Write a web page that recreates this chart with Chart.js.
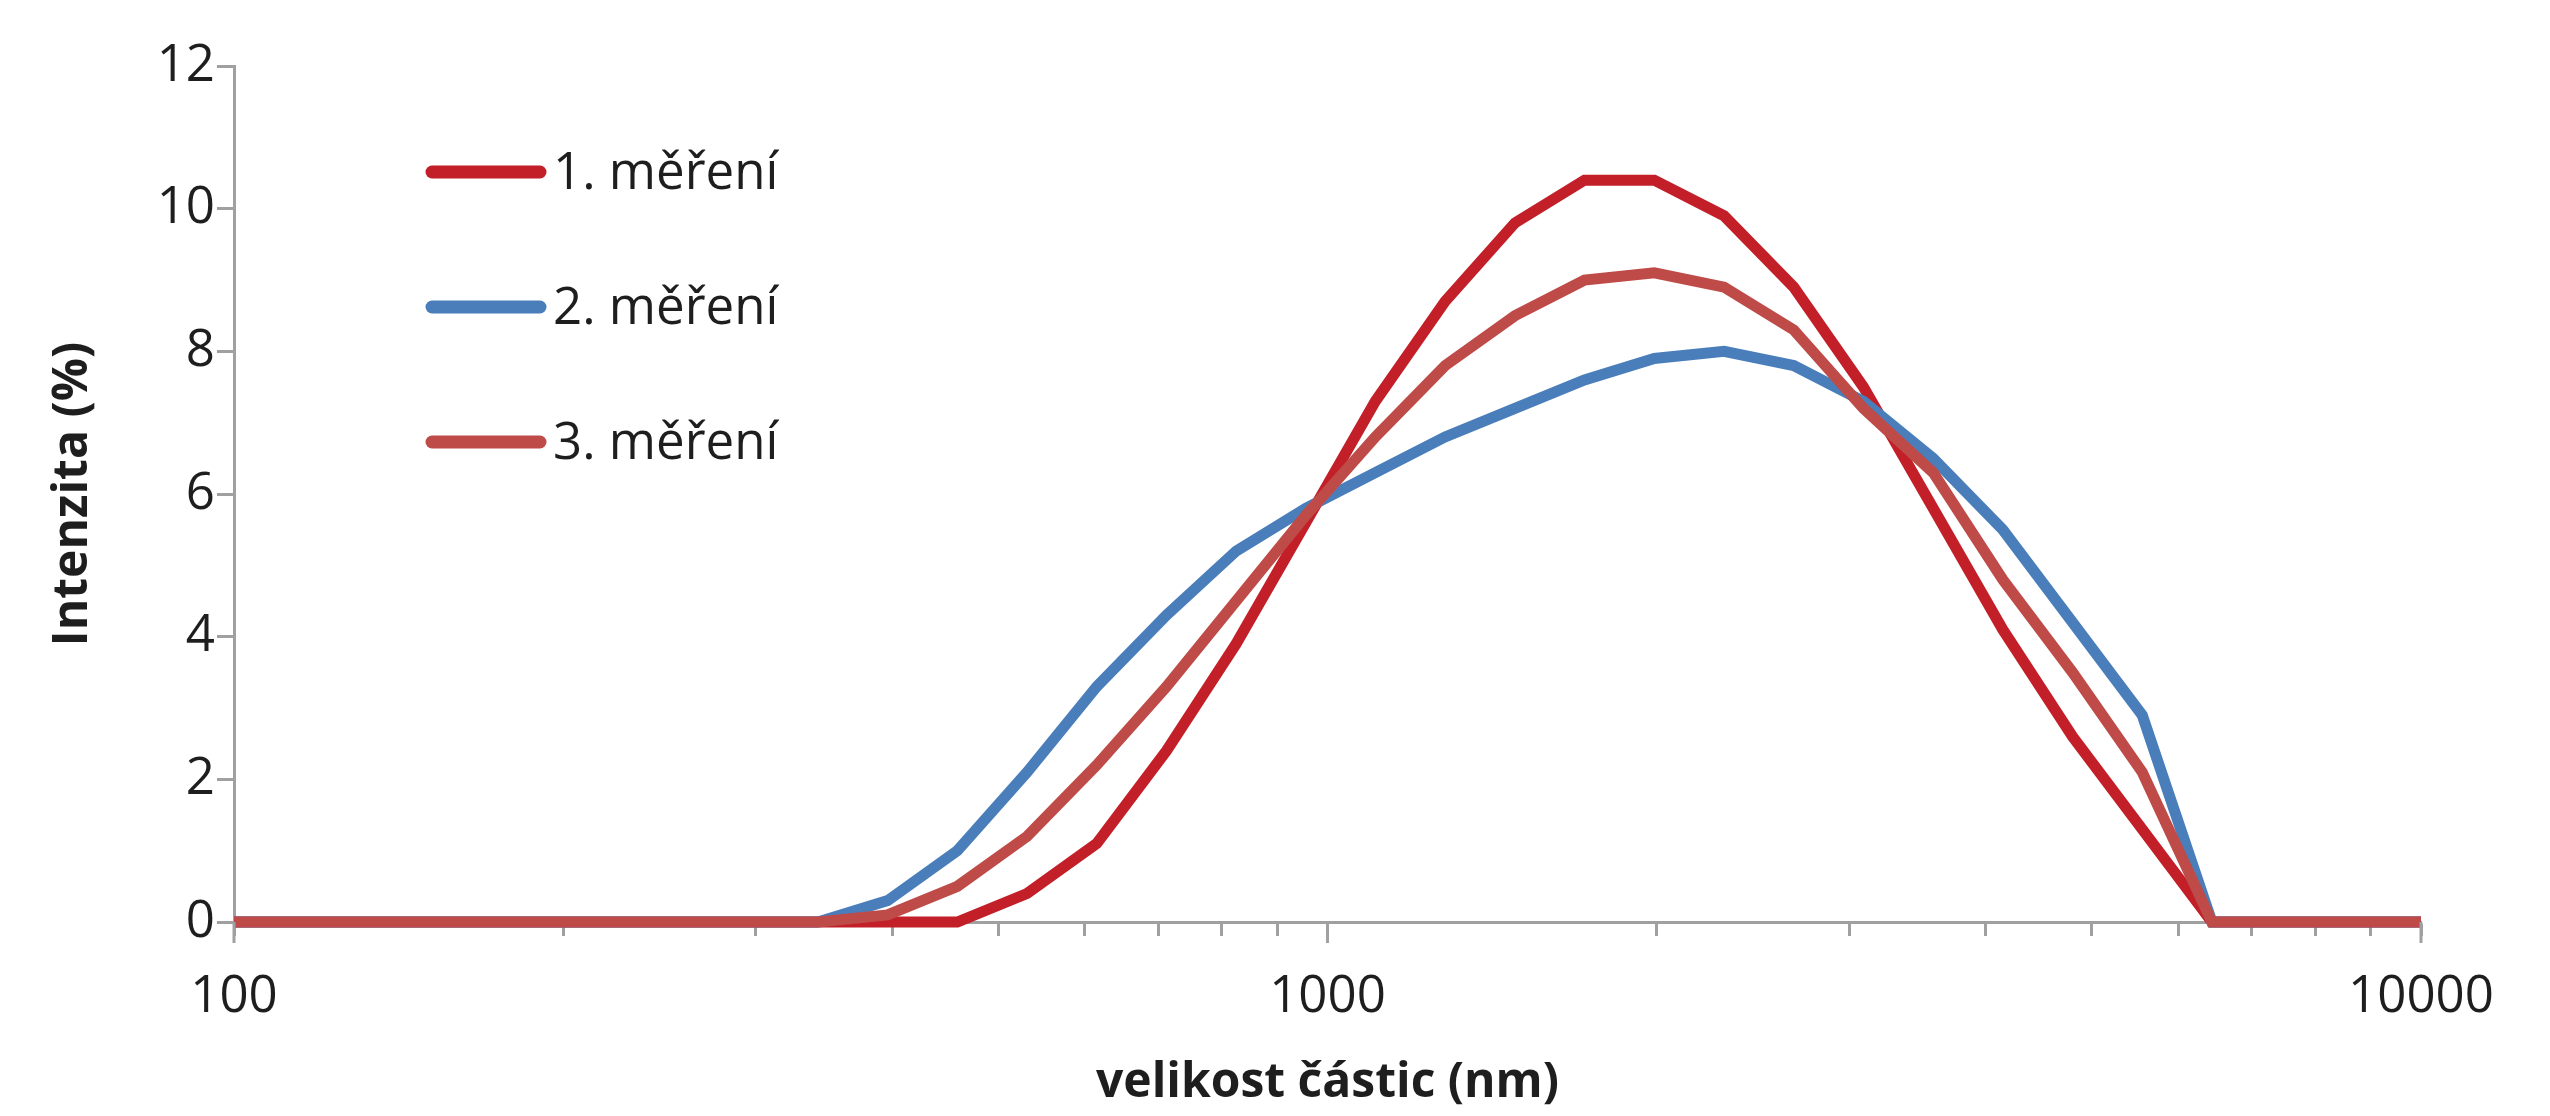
<!DOCTYPE html>
<html><head><meta charset="utf-8">
<script src="https://cdn.jsdelivr.net/npm/chart.js@4/dist/chart.umd.min.js"></script>
<style>html,body{margin:0;padding:0;background:#fff;}#wrap{width:2550px;height:1116px;}</style>
</head><body><div id="wrap"><canvas id="c" width="2550" height="1116"></canvas></div>
<script>
// particle sizes (nm)
const sizes = [91.28, 105.7, 122.4, 141.8, 164.2, 190.1, 220.2, 255.0, 295.3, 342.0, 396.1, 458.7, 531.2, 615.1, 712.4, 825.0, 955.4, 1106, 1281, 1484, 1718, 1990, 2305, 2669, 3091, 3580, 4145, 4801, 5560, 6439, 7456, 8635, 10000];
const mereni1 = [0,0,0,0,0,0,0,0,0,0,0, 0, 0.4, 1.1, 2.4, 3.9, 5.6, 7.3, 8.7, 9.8, 10.4, 10.4, 9.9, 8.9, 7.5, 5.8, 4.1, 2.6, 1.3, 0, 0, 0, 0];
const mereni2 = [0,0,0,0,0,0,0,0,0,0, 0.3, 1.0, 2.1, 3.3, 4.3, 5.2, 5.8, 6.3, 6.8, 7.2, 7.6, 7.9, 8.0, 7.8, 7.3, 6.5, 5.5, 4.2, 2.9, 0, 0, 0, 0];
const mereni3 = [0,0,0,0,0,0,0,0,0,0, 0.1, 0.5, 1.2, 2.2, 3.3, 4.5, 5.7, 6.8, 7.8, 8.5, 9.0, 9.1, 8.9, 8.3, 7.2, 6.3, 4.8, 3.5, 2.1, 0, 0, 0, 0];
const seriesLabels = ['1. měření', '2. měření', '3. měření'];
const seriesColors = ['#C21F28', '#4A7EBB', '#BE4B48'];
const xTickValues = [100, 200, 300, 400, 500, 600, 700, 800, 900, 1000, 2000, 3000, 4000, 5000, 6000, 7000, 8000, 9000, 10000];
const xTickLabels = ['100', '1000', '10000'];
const yTickStep = 2;
const xTitle = 'velikost částic (nm)';
const yTitle = 'Intenzita (%)';

const FONT = '"Open Sans", "Noto Sans", sans-serif';
const AXIS = '#A0A0A0';
const TEXT = '#1E1E1E';

function toPoints(vals) { return sizes.map((s, i) => ({x: s, y: vals[i]})); }

const legendPlugin = {
  id: 'customLegend',
  afterDraw(chart) {
    const ctx = chart.ctx;
    ctx.save();
    chart.data.datasets.forEach((ds, i) => {
      const y = 172 + i * 135;
      ctx.strokeStyle = ds.borderColor;
      ctx.lineWidth = 13;
      ctx.lineCap = 'round';
      ctx.beginPath(); ctx.moveTo(432, y); ctx.lineTo(540, y); ctx.stroke();
      ctx.fillStyle = TEXT;
      ctx.font = '51px ' + FONT;
      ctx.textBaseline = 'middle';
      ctx.textAlign = 'left';
      ctx.fillText(ds.label, 553, y + 2);
    });
    ctx.restore();
  }
};

const majorTickPlugin = {
  id: 'majorTicks',
  afterDraw(chart) {
    const xs = chart.scales.x, ctx = chart.ctx;
    const b = chart.chartArea.bottom;
    ctx.save();
    ctx.strokeStyle = AXIS; ctx.lineWidth = 3;
    xTickLabels.forEach(l => {
      const px = xs.getPixelForValue(Number(l));
      ctx.beginPath(); ctx.moveTo(px, b); ctx.lineTo(px, b + 21); ctx.stroke();
    });
    ctx.restore();
  }
};

new Chart(document.getElementById('c'), {
  type: 'line',
  data: {
    datasets: [
      {label: seriesLabels[0], data: toPoints(mereni1), borderColor: seriesColors[0], order: 3},
      {label: seriesLabels[1], data: toPoints(mereni2), borderColor: seriesColors[1], order: 2},
      {label: seriesLabels[2], data: toPoints(mereni3), borderColor: seriesColors[2], order: 1}
    ].map(d => Object.assign(d, {borderWidth: 11, pointRadius: 0, tension: 0, fill: false,
      borderJoinStyle: 'miter', clip: {left: 0, top: false, right: 6, bottom: false}}))
  },
  options: {
    responsive: false, animation: false, devicePixelRatio: 1,
    layout: {padding: {left: 0, top: 66, right: 129, bottom: 0}},
    plugins: {legend: {display: false}, tooltip: {enabled: false}},
    scales: {
      x: {
        type: 'logarithmic', min: 100, max: 10000,
        afterBuildTicks: s => { s.ticks = xTickValues.map(v => ({value: v, major: xTickLabels.includes(String(v))})); },
        afterFit: s => { s.height = 194; },
        ticks: {autoSkip: false, maxRotation: 0, minRotation: 0, padding: 31, color: TEXT,
          font: {family: FONT, size: 51},
          callback: v => xTickLabels.includes(String(v)) ? String(v) : ''},
        grid: {drawOnChartArea: false, drawTicks: true, tickLength: 14, tickColor: AXIS, tickWidth: 3},
        border: {color: AXIS, width: 3},
        title: {display: true, text: xTitle, color: TEXT, font: {family: FONT, size: 48, weight: 'bold'}, padding: {top: 0, bottom: 4}}
      },
      y: {
        min: 0, max: 12,
        afterFit: s => { s.width = 234; },
        ticks: {stepSize: yTickStep, padding: 2, color: TEXT, font: {family: FONT, size: 51}},
        grid: {drawOnChartArea: false, drawTicks: true, tickLength: 17, tickColor: AXIS, tickWidth: 3},
        border: {color: AXIS, width: 3},
        title: {display: true, text: yTitle, color: TEXT, font: {family: FONT, size: 48, weight: 'bold'}, padding: {top: 45, bottom: 0}}
      }
    }
  },
  plugins: [legendPlugin, majorTickPlugin]
});
</script></body></html>
